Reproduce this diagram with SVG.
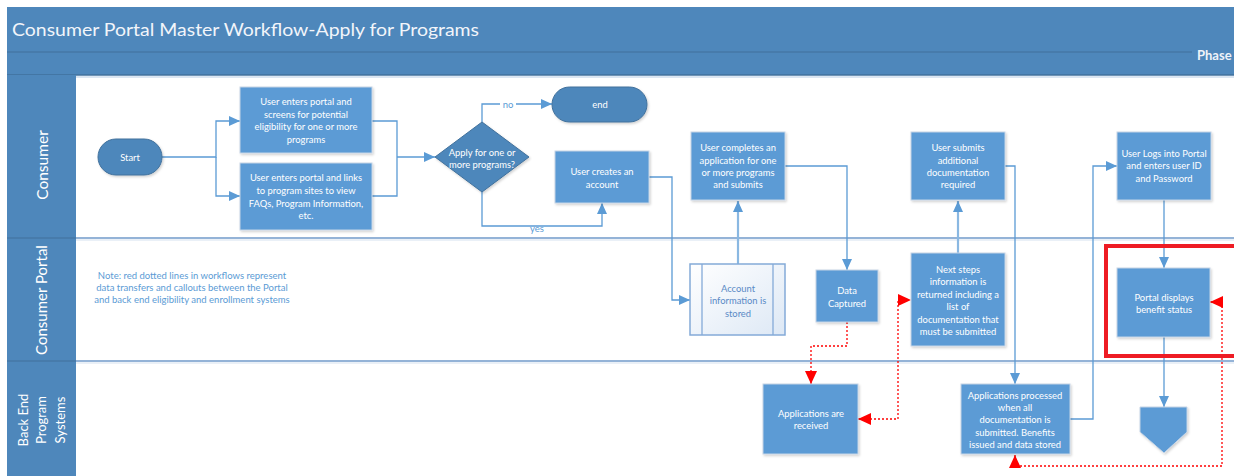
<svg xmlns="http://www.w3.org/2000/svg" width="1234" height="476" viewBox="0 0 1234 476">
<style>
.hdr{fill:#4e87bb}
.proc{fill:#5b9bd5;stroke:#c5d4e6;stroke-width:1}
.term{fill:#4e87bb;stroke:#41719c;stroke-width:1}
.t{font-family:Lato,"Liberation Sans",sans-serif;font-size:9.4px;fill:#ffffff;text-anchor:middle}
.lane{font-family:Lato,"Liberation Sans",sans-serif;fill:#ffffff;text-anchor:middle}
.c{fill:none;stroke:#5b9bd5;stroke-width:1.3}
.c2{fill:none;stroke:#8ab8e2;stroke-width:2.2}
.r{fill:none;stroke:#ff0000;stroke-width:1.3;stroke-dasharray:2 2}
.lbl{font-family:Lato,"Liberation Sans",sans-serif;font-size:9.5px;fill:#5b9bd5;text-anchor:middle}
</style>
<defs>
<marker id="ab" markerUnits="userSpaceOnUse" markerWidth="11" markerHeight="10" refX="11" refY="5" orient="auto-start-reverse"><path d="M0,0 L11,5 L0,10 z" fill="#5b9bd5"/></marker>
<marker id="ar" markerUnits="userSpaceOnUse" markerWidth="13" markerHeight="12" refX="13" refY="6" orient="auto-start-reverse"><path d="M0,0 L13,6 L0,12 z" fill="#ff0000"/></marker>
<linearGradient id="store" x1="0" y1="0" x2="1" y2="1"><stop offset="0" stop-color="#ffffff"/><stop offset="1" stop-color="#dde8f5"/></linearGradient>
<filter id="sh" x="-10%" y="-10%" width="130%" height="130%"><feDropShadow dx="1.2" dy="1.5" stdDeviation="1" flood-color="#000" flood-opacity="0.18"/></filter>
</defs>
<rect width="1234" height="476" fill="#ffffff"/>
<!-- header -->
<g id="header">
<rect class="hdr" x="7" y="7" width="1227" height="68"/>
<line x1="7" y1="52" x2="1192" y2="52" stroke="#41719c" stroke-width="1.2"/>
<line x1="7" y1="75" x2="1234" y2="75" stroke="#41719c" stroke-width="1.5"/>
<text x="12" y="36" font-family="Lato,'Liberation Sans',sans-serif" font-size="18" fill="#f2f5fa" textLength="467" lengthAdjust="spacingAndGlyphs">Consumer Portal Master Workflow-Apply for Programs</text>
<text x="1197" y="60" font-family="Lato,'Liberation Sans',sans-serif" font-size="13" font-weight="bold" fill="#eef3f9">Phase</text>
</g>
<!-- lanes -->
<g id="lanes">
<rect class="hdr" x="7" y="75" width="69" height="401"/>
<line x1="7" y1="238" x2="76" y2="238" stroke="#41719c" stroke-width="1.2"/>
<line x1="7" y1="361" x2="76" y2="361" stroke="#41719c" stroke-width="1.2"/>
<line x1="76" y1="77" x2="1234" y2="77" stroke="#dbe6f2" stroke-width="2"/>
<line x1="76" y1="238" x2="1234" y2="238" stroke="#94b3d7" stroke-width="2"/>
<line x1="76" y1="240" x2="1234" y2="240" stroke="#e3ebf5" stroke-width="1.5"/>
<line x1="76" y1="361" x2="1234" y2="361" stroke="#94b3d7" stroke-width="2"/>
<line x1="76" y1="363" x2="1234" y2="363" stroke="#e3ebf5" stroke-width="1.5"/>
<text class="lane" font-size="15.5" transform="translate(48,165) rotate(-90)">Consumer</text>
<text class="lane" font-size="15" transform="translate(47,300) rotate(-90)">Consumer Portal</text>
<text class="lane" font-size="13" transform="translate(28,420) rotate(-90)">Back End</text>
<text class="lane" font-size="13" transform="translate(46,420) rotate(-90)">Program</text>
<text class="lane" font-size="13" transform="translate(65,420) rotate(-90)">Systems</text>
</g>
<!-- connectors -->
<g id="connectors">
<path class="c" d="M162,157 H216 V121 H240" marker-end="url(#ab)"/>
<path class="c" d="M216,157 V196 H240" marker-end="url(#ab)"/>
<path class="c" d="M372,121 H397 V196 H372"/>
<path class="c" d="M397,157 H435" marker-end="url(#ab)"/>
<path class="c" d="M482,122 V104 H552" marker-end="url(#ab)"/>
<path class="c" d="M482,192 V226 H602 V203" marker-end="url(#ab)"/>
<path class="c" d="M649,177 H672 V300 H690" marker-end="url(#ab)"/>
<path class="c2" d="M738,264 V201" marker-end="url(#ab)"/>
<path class="c" d="M785,166 H847 V270" marker-end="url(#ab)"/>
<path class="c2" d="M958,253 V201" marker-end="url(#ab)"/>
<path class="c" d="M1005,166 H1015 V384" marker-end="url(#ab)"/>
<path class="c" d="M1070,419 H1093 V166 H1117" marker-end="url(#ab)"/>
<path class="c" d="M1164,200 V268" marker-end="url(#ab)"/>
<path class="c" d="M1164,337 V407" marker-end="url(#ab)"/>
<path class="r" d="M847,322 V346 H811 V384" marker-end="url(#ar)"/>
<path class="r" d="M858,419 H898 V300 H911" marker-start="url(#ar)" marker-end="url(#ar)"/>
<path class="r" d="M1015,455 V466 H1222 V302 H1210" marker-start="url(#ar)" marker-end="url(#ar)"/>
<rect x="500" y="98" width="16" height="12" fill="#ffffff"/>
<text class="lbl" x="508" y="107.5">no</text>
<text class="lbl" x="537" y="232">yes</text>
</g>
<!-- nodes -->
<g id="start">
<rect class="term" x="98" y="139" width="64" height="36" rx="18" filter="url(#sh)"/>
<text class="t" x="130" y="161" font-size="11.5">Start</text>
</g>
<g id="screen">
<rect class="proc" x="240" y="87" width="132" height="66" filter="url(#sh)"/>
<text class="t" x="306" y="105">User enters portal and</text>
<text class="t" x="306" y="117.5">screens for potential</text>
<text class="t" x="306" y="130">eligibility for one or more</text>
<text class="t" x="306" y="142.5">programs</text>
</g>
<g id="links">
<rect class="proc" x="240" y="163" width="132" height="67" filter="url(#sh)"/>
<text class="t" x="306" y="181">User enters portal and links</text>
<text class="t" x="306" y="194">to program sites to view</text>
<text class="t" x="306" y="206.5">FAQs, Program Information,</text>
<text class="t" x="306" y="219">etc.</text>
</g>
<g id="decision">
<polygon class="term" points="435,157 482,122 529,157 482,192" filter="url(#sh)"/>
<text class="t" x="482" y="155.5" font-size="10">Apply for one or</text>
<text class="t" x="482" y="167.5" font-size="10">more programs?</text>
</g>
<g id="end">
<rect class="term" x="552" y="87" width="95" height="35" rx="17.5" filter="url(#sh)"/>
<text class="t" x="600" y="107.5" font-size="10">end</text>
</g>
<g id="account">
<rect class="proc" x="555" y="151" width="94" height="52" filter="url(#sh)"/>
<text class="t" x="602" y="175">User creates an</text>
<text class="t" x="602" y="187.5">account</text>
</g>
<g id="complete">
<rect class="proc" x="691" y="132" width="94" height="68" filter="url(#sh)"/>
<text class="t" x="738" y="151">User completes an</text>
<text class="t" x="738" y="163.5">application for one</text>
<text class="t" x="738" y="175.5">or more programs</text>
<text class="t" x="738" y="188">and submits</text>
</g>
<g id="submitdocs">
<rect class="proc" x="911" y="132" width="94" height="68" filter="url(#sh)"/>
<text class="t" x="958" y="151">User submits</text>
<text class="t" x="958" y="163.5">additional</text>
<text class="t" x="958" y="175.5">documentation</text>
<text class="t" x="958" y="188">required</text>
</g>
<g id="login">
<rect class="proc" x="1117" y="132" width="94" height="68" filter="url(#sh)"/>
<text class="t" x="1164" y="156.5">User Logs into Portal</text>
<text class="t" x="1164" y="169">and enters user ID</text>
<text class="t" x="1164" y="181.5">and Password</text>
</g>
<g id="note">
<text class="lbl" x="192" y="279" font-size="9">Note: red dotted lines in workflows represent</text>
<text class="lbl" x="192" y="291" font-size="9">data transfers and callouts between the Portal</text>
<text class="lbl" x="192" y="303" font-size="9">and back end eligibility and enrollment systems</text>
</g>
<g id="stored">
<rect x="690" y="264" width="95" height="71" fill="url(#store)" stroke="#84aad8" stroke-width="1.5"/>
<line x1="702" y1="264" x2="702" y2="335" stroke="#84aad8" stroke-width="1.3"/>
<line x1="773" y1="264" x2="773" y2="335" stroke="#84aad8" stroke-width="1.3"/>
<text class="t" x="738" y="291.5" style="fill:#5a8ac6" font-size="9.8">Account</text>
<text class="t" x="738" y="304" style="fill:#5a8ac6" font-size="9.8">information is</text>
<text class="t" x="738" y="316.5" style="fill:#5a8ac6" font-size="9.8">stored</text>
</g>
<g id="captured">
<rect class="proc" x="816" y="270" width="62" height="52" filter="url(#sh)"/>
<text class="t" x="847" y="293.5">Data</text>
<text class="t" x="847" y="307">Captured</text>
</g>
<g id="nextsteps">
<rect class="proc" x="911" y="253" width="94" height="93" filter="url(#sh)"/>
<text class="t" x="958" y="272.5">Next steps</text>
<text class="t" x="958" y="285">information is</text>
<text class="t" x="958" y="297.5">returned including a</text>
<text class="t" x="958" y="310">list of</text>
<text class="t" x="958" y="322.5">documentation that</text>
<text class="t" x="958" y="335">must be submitted</text>
</g>
<g id="portaldisplay">
<rect class="proc" x="1117" y="268" width="93" height="69" filter="url(#sh)"/>
<text class="t" x="1164" y="301">Portal displays</text>
<text class="t" x="1164" y="313">benefit status</text>
</g>
<g id="highlight">
<rect x="1106" y="246" width="140" height="110" fill="none" stroke="#ee1c24" stroke-width="4"/>
</g>
<g id="received">
<rect class="proc" x="763" y="384" width="95" height="70" filter="url(#sh)"/>
<text class="t" x="811" y="416.5">Applications  are</text>
<text class="t" x="811" y="429">received</text>
</g>
<g id="processed">
<rect class="proc" x="961" y="384" width="109" height="70" filter="url(#sh)"/>
<text class="t" x="1015" y="398.5">Applications  processed</text>
<text class="t" x="1015" y="410.5">when all</text>
<text class="t" x="1015" y="423">documentation is</text>
<text class="t" x="1015" y="435.5">submitted. Benefits</text>
<text class="t" x="1015" y="448">issued and data stored</text>
</g>
<g id="offpage">
<polygon class="proc" points="1140,407 1187,407 1187,432 1164,453 1140,432" filter="url(#sh)"/>
</g>
</svg>
